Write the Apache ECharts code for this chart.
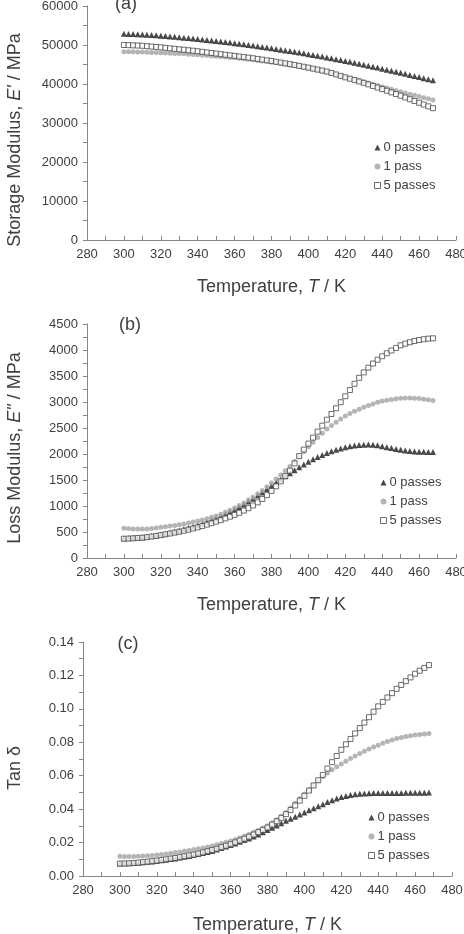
<!DOCTYPE html>
<html>
<head>
<meta charset="utf-8">
<script src="https://cdn.jsdelivr.net/npm/echarts@6/dist/echarts.min.js"></script>
<style>
  html, body { margin: 0; padding: 0; background: #fff; }
  #chart { width: 464px; height: 934px; }
</style>
</head>
<body>
<div id="chart"></div>
<script>
// temperature, K
const temperature = [300, 302.5, 305, 307.5, 310, 312.5, 315, 317.5, 320, 322.5, 325, 327.5, 330, 332.5, 335, 337.5,
  340, 342.5, 345, 347.5, 350, 352.5, 355, 357.5, 360, 362.5, 365, 367.5, 370, 372.5, 375, 377.5,
  380, 382.5, 385, 387.5, 390, 392.5, 395, 397.5, 400, 402.5, 405, 407.5, 410, 412.5, 415, 417.5,
  420, 422.5, 425, 427.5, 430, 432.5, 435, 437.5, 440, 442.5, 445, 447.5, 450, 452.5, 455, 457.5,
  460, 462.5, 465, 467.5];

// (a) storage modulus E', MPa
const storage0 = [52900, 52850, 52800, 52750, 52700, 52630, 52550, 52480, 52400, 52300, 52200, 52100, 52000, 51890, 51780, 51660,
  51550, 51420, 51300, 51170, 51050, 50910, 50770, 50620, 50480, 50320, 50170, 50010, 49850, 49680, 49510, 49340,
  49170, 48990, 48810, 48620, 48440, 48250, 48050, 47860, 47660, 47450, 47240, 47030, 46820, 46600, 46370, 46150,
  45920, 45680, 45440, 45200, 44960, 44710, 44450, 44200, 43940, 43680, 43410, 43150, 42880, 42610, 42330, 42060,
  41780, 41500, 41210, 40930];
const storage1 = [48300, 48280, 48250, 48230, 48200, 48150, 48100, 48050, 48000, 47950, 47900, 47850, 47800, 47730, 47650, 47580,
  47500, 47400, 47300, 47200, 47100, 47000, 46900, 46800, 46700, 46580, 46450, 46330, 46200, 46050, 45900, 45750,
  45600, 45430, 45250, 45080, 44900, 44700, 44500, 44300, 44100, 43850, 43600, 43350, 43100, 42780, 42450, 42130,
  41800, 41500, 41200, 40900, 40600, 40280, 39950, 39630, 39300, 38980, 38650, 38330, 38000, 37700, 37400, 37100,
  36800, 36500, 36200, 35900];
const storage5 = [50000, 49960, 49910, 49860, 49800, 49700, 49600, 49500, 49400, 49280, 49150, 49030, 48900, 48780, 48650, 48530,
  48400, 48250, 48100, 47950, 47800, 47650, 47500, 47350, 47200, 47050, 46900, 46750, 46600, 46430, 46250, 46080,
  45900, 45700, 45500, 45300, 45100, 44880, 44650, 44430, 44200, 43950, 43700, 43450, 43200, 42830, 42450, 42080,
  41700, 41350, 41000, 40650, 40300, 39900, 39500, 39100, 38700, 38280, 37850, 37430, 37000, 36550, 36100, 35650,
  35200, 34730, 34270, 33800];

// (b) loss modulus E", MPa
const loss0 = [380, 383, 388, 393, 400, 410, 422, 435, 450, 468, 488, 508, 530, 553, 578, 603,
  630, 660, 692, 725, 760, 798, 840, 884, 930, 980, 1030, 1085, 1140, 1200, 1262, 1325,
  1390, 1452, 1512, 1572, 1630, 1688, 1745, 1800, 1850, 1897, 1940, 1982, 2020, 2052, 2080, 2107,
  2130, 2148, 2162, 2173, 2180, 2182, 2178, 2166, 2150, 2132, 2114, 2096, 2080, 2067, 2057, 2050,
  2045, 2042, 2040, 2040];
const loss1 = [572, 565, 560, 557, 556, 560, 567, 577, 590, 601, 614, 627, 640, 656, 673, 691,
  710, 733, 757, 783, 810, 843, 879, 918, 960, 1008, 1060, 1113, 1170, 1234, 1300, 1370,
  1440, 1518, 1597, 1678, 1760, 1855, 1950, 2045, 2140, 2228, 2315, 2400, 2480, 2548, 2612, 2673,
  2730, 2777, 2822, 2862, 2900, 2933, 2963, 2993, 3020, 3036, 3050, 3062, 3070, 3075, 3076, 3072,
  3065, 3055, 3043, 3030];
const loss5 = [370, 373, 378, 384, 390, 400, 412, 425, 440, 455, 471, 488, 505, 524, 545, 567,
  590, 615, 642, 670, 700, 730, 762, 795, 830, 869, 912, 958, 1010, 1070, 1135, 1208,
  1290, 1380, 1475, 1575, 1680, 1820, 1960, 2085, 2200, 2315, 2430, 2545, 2660, 2770, 2880, 2995,
  3110, 3230, 3350, 3465, 3570, 3660, 3740, 3813, 3880, 3937, 3990, 4040, 4090, 4122, 4150, 4173,
  4192, 4207, 4218, 4225];

// (c) tan delta
const tan0 = [0.0075, 0.0076, 0.0077, 0.0078, 0.0080, 0.0082, 0.0085, 0.0087, 0.0090, 0.0094, 0.0097, 0.0101, 0.0105, 0.0110, 0.0115, 0.0120,
  0.0125, 0.0131, 0.0137, 0.0143, 0.0150, 0.0158, 0.0167, 0.0176, 0.0185, 0.0195, 0.0205, 0.0215, 0.0225, 0.0237, 0.0249, 0.0262,
  0.0275, 0.0289, 0.0302, 0.0316, 0.0330, 0.0343, 0.0355, 0.0368, 0.0380, 0.0393, 0.0405, 0.0418, 0.0430, 0.0442, 0.0453, 0.0463,
  0.0472, 0.0479, 0.0485, 0.0489, 0.0492, 0.0494, 0.0495, 0.0496, 0.0496, 0.0496, 0.0497, 0.0497, 0.0497, 0.0497, 0.0498, 0.0498,
  0.0498, 0.0498, 0.0498, 0.0499];
const tan1 = [0.0118, 0.0117, 0.0117, 0.0117, 0.0118, 0.0119, 0.0121, 0.0123, 0.0125, 0.0129, 0.0132, 0.0136, 0.0140, 0.0144, 0.0149, 0.0153,
  0.0158, 0.0163, 0.0168, 0.0174, 0.0180, 0.0187, 0.0194, 0.0202, 0.0210, 0.0219, 0.0229, 0.0239, 0.0250, 0.0262, 0.0274, 0.0287,
  0.0300, 0.0318, 0.0337, 0.0358, 0.0380, 0.0407, 0.0435, 0.0463, 0.0490, 0.0517, 0.0544, 0.0570, 0.0595, 0.0616, 0.0636, 0.0654,
  0.0670, 0.0687, 0.0703, 0.0718, 0.0733, 0.0747, 0.0760, 0.0772, 0.0783, 0.0794, 0.0804, 0.0813, 0.0822, 0.0829, 0.0835, 0.0839,
  0.0843, 0.0847, 0.0850, 0.0853];
const tan5 = [0.0074, 0.0075, 0.0076, 0.0078, 0.0080, 0.0083, 0.0086, 0.0089, 0.0092, 0.0096, 0.0100, 0.0104, 0.0108, 0.0113, 0.0118, 0.0123,
  0.0128, 0.0134, 0.0141, 0.0148, 0.0155, 0.0163, 0.0172, 0.0181, 0.0190, 0.0201, 0.0212, 0.0223, 0.0235, 0.0248, 0.0262, 0.0276,
  0.0290, 0.0308, 0.0328, 0.0348, 0.0370, 0.0395, 0.0422, 0.0451, 0.0480, 0.0511, 0.0542, 0.0573, 0.0605, 0.0643, 0.0681, 0.0718,
  0.0755, 0.0788, 0.0820, 0.0853, 0.0885, 0.0918, 0.0950, 0.0983, 0.1015, 0.1042, 0.1068, 0.1094, 0.1120, 0.1143, 0.1166, 0.1188,
  0.1210, 0.1228, 0.1245, 0.1262];

const seriesNames = ['0 passes', '1 pass', '5 passes'];
const panelLabels = ['(a)', '(b)', '(c)'];
const yTitles = ["Storage Modulus, {i|E'} / MPa", 'Loss Modulus, {i|E"} / MPa', 'Tan δ'];

const font = 'Liberation Sans, Arial, sans-serif';
const axisGrey = '#868686';
const textGrey = '#404040';

const looks = [
  { symbol: 'triangle', symbolSize: 6, itemStyle: { color: '#1c1c1c', borderWidth: 0 } },
  { symbol: 'circle', symbolSize: 5, itemStyle: { color: '#a3a3a3', borderWidth: 0 } },
  { symbol: 'rect', symbolSize: 5, itemStyle: { color: '#ffffff', borderColor: '#4a4a4a', borderWidth: 1 } }
];

function pairs(ys) {
  return temperature.map(function (t, i) { return [t, ys[i]]; });
}

function titleStyle(padRight) {
  return {
    color: textGrey, fontSize: 18, fontFamily: font,
    padding: [0, padRight, 0, 0],
    rich: { i: { fontStyle: 'italic', fontSize: 18, color: textGrey, fontFamily: font } }
  };
}

function xAxis(k, gap) {
  return {
    type: 'value', gridIndex: k, min: 280, max: 480, interval: 20,
    axisLine: { onZero: false, lineStyle: { color: axisGrey, width: 1 } },
    axisTick: { inside: true, length: 4, lineStyle: { color: axisGrey } },
    minorTick: { show: true, splitNumber: 2, length: 4, lineStyle: { color: axisGrey } },
    splitLine: { show: false },
    axisLabel: { color: textGrey, fontSize: 13, fontFamily: font, margin: 8 },
    name: 'Temperature, {i|T} / K', nameLocation: 'middle', nameGap: gap,
    nameTextStyle: titleStyle(0)
  };
}

function yAxis(k, max, step, digits, gap, shift) {
  return {
    type: 'value', gridIndex: k, min: 0, max: max, interval: step,
    axisLine: { show: true, lineStyle: { color: axisGrey, width: 1 } },
    axisTick: { show: true, length: 4, lineStyle: { color: axisGrey } },
    minorTick: { show: true, splitNumber: 2, length: 4, lineStyle: { color: axisGrey } },
    splitLine: { show: false },
    axisLabel: {
      color: textGrey, fontSize: 13, fontFamily: font, margin: 9,
      formatter: function (v) { return v.toFixed(digits); }
    },
    name: yTitles[k], nameLocation: 'middle', nameGap: gap,
    nameTextStyle: titleStyle(shift)
  };
}

function scatter(k, idx, ys) {
  return Object.assign({
    type: 'scatter', name: seriesNames[idx], xAxisIndex: k, yAxisIndex: k,
    data: pairs(ys), silent: true
  }, looks[idx]);
}

function legend(left, top) {
  return {
    orient: 'vertical', left: left, top: top, padding: 0,
    itemWidth: 6, itemHeight: 6, itemGap: 6,
    textStyle: { color: textGrey, fontSize: 13, fontFamily: font, padding: [0, 0, 0, -2] },
    data: [
      { name: '0 passes', icon: 'triangle', itemStyle: { color: '#1c1c1c', borderWidth: 0 } },
      { name: '1 pass', icon: 'circle', itemStyle: { color: '#a3a3a3', borderWidth: 0 } },
      { name: '5 passes', icon: 'rect', itemStyle: { color: '#ffffff', borderColor: '#4a4a4a', borderWidth: 1 } }
    ]
  };
}

function grid(left, top) {
  return { left: left, top: top, width: 369, height: 234, containLabel: false, outerBoundsMode: 'none' };
}

const chart = echarts.init(document.getElementById('chart'), null, { renderer: 'canvas' });

chart.setOption({
  animation: false,
  backgroundColor: '#ffffff',
  grid: [grid(87, 6), grid(87, 324), grid(83, 642)],
  xAxis: [xAxis(0, 38), xAxis(1, 38), xAxis(2, 40)],
  yAxis: [
    yAxis(0, 60000, 10000, 0, 63, 34),
    yAxis(1, 4500, 500, 0, 63, 14),
    yAxis(2, 0.14, 0.02, 2, 59, 18)
  ],
  legend: [legend(374, 141), legend(380, 476), legend(368, 811)],
  graphic: [
    { type: 'text', x: 126, y: 4, style: { text: panelLabels[0], align: 'center', verticalAlign: 'middle', fill: textGrey, font: '18px ' + font } },
    { type: 'text', x: 130, y: 325, style: { text: panelLabels[1], align: 'center', verticalAlign: 'middle', fill: textGrey, font: '18px ' + font } },
    { type: 'text', x: 128, y: 644, style: { text: panelLabels[2], align: 'center', verticalAlign: 'middle', fill: textGrey, font: '18px ' + font } }
  ],
  series: [
    scatter(0, 0, storage0), scatter(0, 1, storage1), scatter(0, 2, storage5),
    scatter(1, 0, loss0), scatter(1, 1, loss1), scatter(1, 2, loss5),
    scatter(2, 0, tan0), scatter(2, 1, tan1), scatter(2, 2, tan5)
  ]
});
</script>
</body>
</html>
